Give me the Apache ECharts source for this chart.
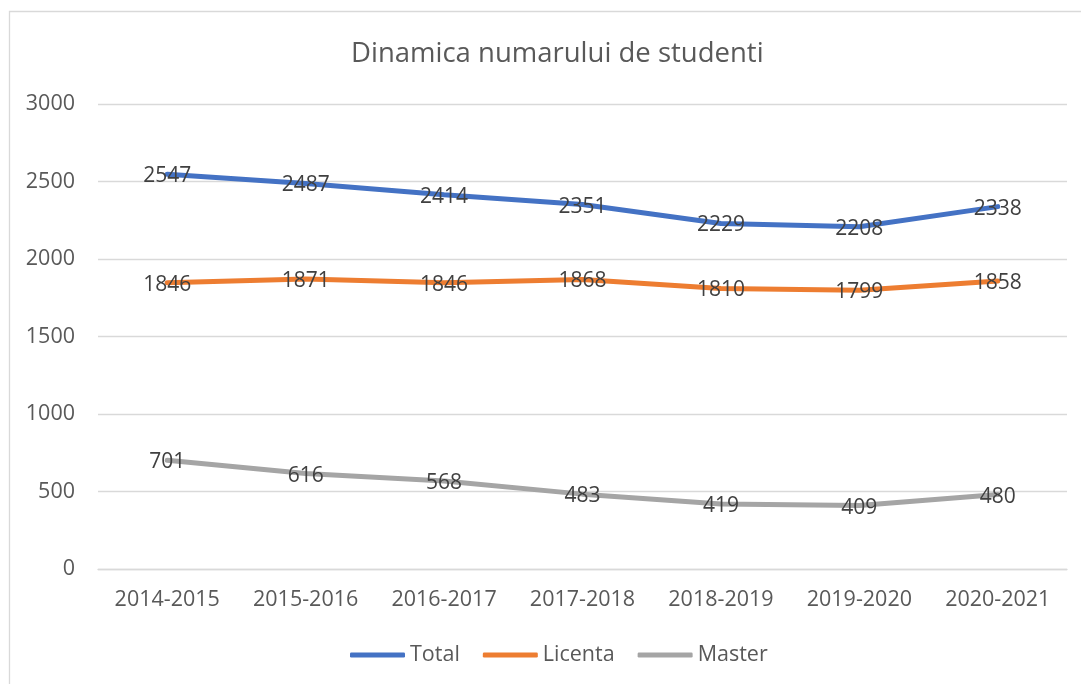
<!DOCTYPE html>
<html lang="ro">

<head>
  <meta charset="UTF-8">
  <title>Dinamica numarului de studenti</title>
  <script src="https://cdn.jsdelivr.net/npm/echarts@6/dist/echarts.min.js"></script>
  <style>
    * {
      margin: 0;
      padding: 0;
    }

    #chart {
      width: 1081px;
      height: 684px;
      background: #fff;
    }
  </style>
</head>

<body>
  <div id="chart"></div>
</body>

<script>
  // anii universitari
  var years = ['2014-2015', '2015-2016', '2016-2017', '2017-2018', '2018-2019', '2019-2020', '2020-2021'];

  // numarul de studenti
  var total = [2547, 2487, 2414, 2351, 2229, 2208, 2338];
  var licenta = [1846, 1871, 1846, 1868, 1810, 1799, 1858];
  var master = [701, 616, 568, 483, 419, 409, 480];

  var font = '"Open Sans", "Noto Sans", sans-serif';
  var myChart = echarts.init(document.getElementById('chart'));

  function makeLine(name, data, color) {
    return {
      name: name,
      type: 'line',
      data: data,
      symbol: 'circle',
      symbolSize: 0,
      lineStyle: { color: color, width: 5, cap: 'round' },
      itemStyle: { color: color },
      label: {
        show: true,
        position: 'inside',
        offset: [0, 2],
        color: '#404040',
        fontFamily: font,
        fontSize: 21
      },
      emphasis: { disabled: true }
    };
  }

  var option = {
    animation: false,
    graphic: [{
      type: 'rect',
      shape: { x: 9.5, y: 11.5, width: 1200, height: 800 },
      style: { fill: 'none', stroke: '#d9d9d9', lineWidth: 1.3 },
      silent: true
    }],
    title: {
      text: 'Dinamica numarului de studenti',
      left: 346,
      top: 35,
      textStyle: {
        color: '#595959',
        fontFamily: font,
        fontWeight: 'normal',
        fontSize: 27.5
      }
    },
    legend: {
      bottom: 13,
      left: 345,
      icon: 'roundRect',
      itemWidth: 55,
      itemHeight: 5,
      itemGap: 23,
      textStyle: { color: '#595959', fontFamily: font, fontSize: 21.5 },
      data: ['Total', 'Licenta', 'Master']
    },
    grid: {
      left: 98,
      right: 14,
      top: 104,
      bottom: 115
    },
    xAxis: {
      type: 'category',
      data: years,
      axisLine: { lineStyle: { color: '#d9d9d9', width: 1.3 } },
      axisTick: { show: false },
      axisLabel: { color: '#595959', fontFamily: font, fontSize: 21.5, margin: 20 }
    },
    yAxis: {
      type: 'value',
      min: 0,
      max: 3000,
      interval: 500,
      axisLine: { show: false },
      axisTick: { show: false },
      splitLine: { lineStyle: { color: '#d9d9d9', width: 1.3 } },
      axisLabel: {
        color: '#595959',
        fontFamily: font,
        fontSize: 21.5,
        margin: 23,
        formatter: function (v) { return String(v); }
      }
    },
    series: [
      makeLine('Total', total, '#4472C4'),
      makeLine('Licenta', licenta, '#ED7D31'),
      makeLine('Master', master, '#A5A5A5')
    ]
  };

  myChart.setOption(option);
</script>

</html>
